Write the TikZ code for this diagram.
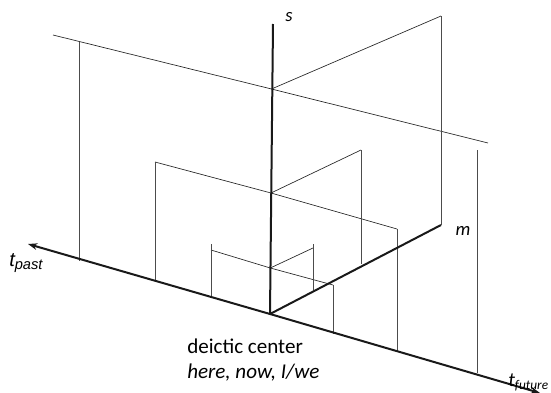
\documentclass[tikz,border=0pt]{standalone}
\usepackage{fontspec}
\setmainfont{Carlito}
\newfontfamily\arialf{Liberation Sans}
\usetikzlibrary{arrows.meta}
\begin{document}
\begin{tikzpicture}[x=0.75pt,y=-0.75pt,
  axisline/.style={line width=1.5pt,black!90},
  thinline/.style={line width=0.5pt,black!85},
  vline/.style={line width=0.5pt,black!70},
  lbl/.style={inner sep=0pt,font=\fontsize{14}{16}\selectfont\itshape}]
\useasboundingbox (0,0) rectangle (551,393);
% axes
\coordinate (O) at (270,314);
\coordinate (Stop) at (273,24);
\coordinate (Tp) at (28,244);
\coordinate (Tf) at (540,393);
\coordinate (M) at (441,225);
% big frame
\coordinate (A1) at (53,35);
\coordinate (As) at (271.5,89);
\coordinate (A2) at (488,143);
\coordinate (Am) at (441,16);
\coordinate (Alt) at (79,41.5);
\coordinate (Alb) at (79,261);
\coordinate (Art) at (477,150);
\coordinate (Arb) at (477,373);
% medium frame
\coordinate (B1) at (155,162);
\coordinate (Bs) at (271,193);
\coordinate (B2) at (397,229);
\coordinate (B2b) at (397,351);
\coordinate (B1b) at (155,281);
\coordinate (Bm) at (361,150);
\coordinate (Bmb) at (361,264);
% small frame
\coordinate (C1t) at (211,244);
\coordinate (C1) at (211,250);
\coordinate (C1b) at (211,298);
\coordinate (Cs) at (270.3,268);
\coordinate (C2) at (333,285);
\coordinate (C2b) at (333,334);
\coordinate (Cmt) at (313,244);
\coordinate (Cm) at (313,248);
\coordinate (Cmb) at (313,290);

% thin lines
\draw[thinline] (A1) -- (As) -- (A2);
\draw[thinline] (As) -- (Am);
\draw[vline] (Am) -- (M);
\draw[vline] (Alt) -- (Alb);
\draw[vline] (Art) -- (Arb);
\draw[thinline] (B1) -- (Bs) -- (B2);
\draw[thinline] (Bs) -- (Bm);
\draw[vline] (B1) -- (B1b);
\draw[vline] (B2) -- (B2b);
\draw[vline] (Bm) -- (Bmb);
\draw[thinline] (C1) -- (Cs) -- (C2);
\draw[thinline] (Cs) -- (Cm);
\draw[vline] (C1t) -- (C1b);
\draw[vline] (C2) -- (C2b);
\draw[vline] (Cmt) -- (Cmb);

% axes
\draw[axisline] (O) -- (Stop);
\draw[axisline] (O) -- (M);
\draw[axisline,-{Stealth[length=7pt,width=5pt]}] (O) -- (Tp);
\draw[axisline,-{Stealth[length=7pt,width=5pt]}] (O) -- (Tf);

% labels
\node[lbl] (sl) at (289,17) {s};
\node[lbl] (ml) at (463,231) {m};
\node[inner sep=0pt,anchor=base west] (tpl) at (9,266) {\arialf\fontsize{15}{17}\selectfont\itshape t\raisebox{-0.35ex}{\fontsize{11}{12}\selectfont past}};
\node[inner sep=0pt,anchor=base west] (tfl) at (508,386) {\fontsize{15}{17}\selectfont\itshape t\raisebox{-0.35ex}{\fontsize{10}{12}\selectfont future}};
\node[inner sep=0pt,anchor=base west,font=\fontsize{15.8}{18}\selectfont] (dc) at (187,353) {deictic center};
\node[inner sep=0pt,anchor=base west,font=\fontsize{15.8}{18}\selectfont\itshape] (hn) at (187,378) {here, now, I/we};
\end{tikzpicture}
\end{document}
